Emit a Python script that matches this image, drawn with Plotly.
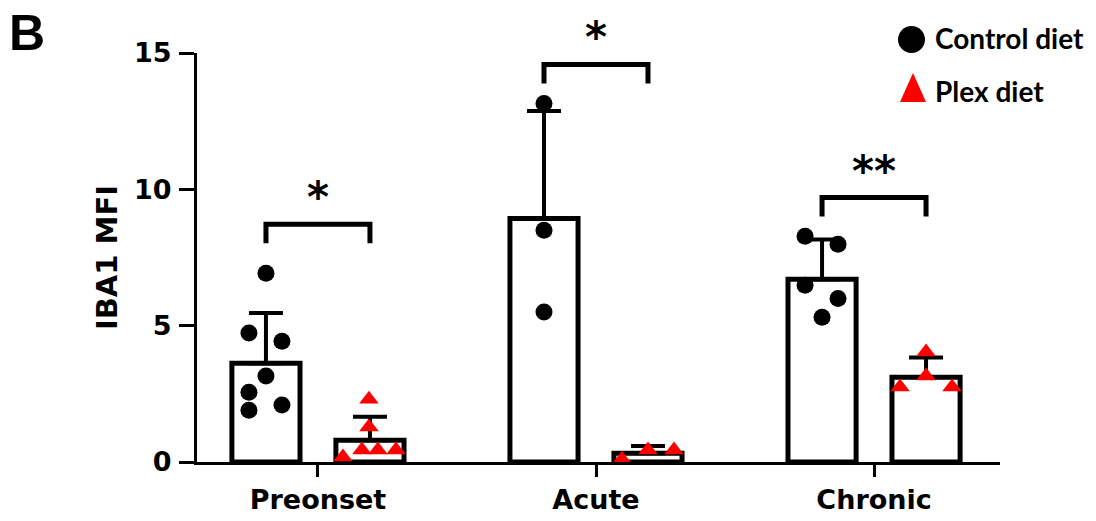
import plotly.graph_objects as go

# ---------------- data ----------------
categories = ["Preonset", "Acute", "Chronic"]

control_mean = [3.62, 8.93, 6.70]
control_sd = [1.84, 3.94, 1.46]
plex_mean = [0.80, 0.32, 3.11]
plex_sd = [0.86, 0.27, 0.72]

control_points = [
    [6.92, 4.73, 4.43, 3.15, 2.56, 1.90, 2.09],
    [13.15, 8.50, 5.50],
    [8.28, 7.99, 6.48, 6.00, 5.31],
]
plex_points = [
    [2.30, 1.28, 0.18, 0.44, 0.44, 0.44],
    [0.10, 0.44, 0.44],
    [4.03, 3.15, 2.75, 2.75],
]

significance = ["*", "*", "**"]
bracket_top = [8.72, 14.58, 9.70]

y_ticks = [0, 5, 10, 15]

# ---------------- layout helpers (positions / styles) ----------------
OFFSET = 0.187          # bar centre offset from category centre
BAR_W = 0.245
PX_PER_X = 278.0
control_jitter_px = [[0, -17, 16, 0, -17, -17, 16], [0, 0, 0], [-17, 16, -17, 16, 0]]
plex_jitter_px = [[-1, -1, -27, -8, 8, 26], [-26, 0, 26], [0, 0, -26, 26]]
LEG_DROP = 0.7

ML, MR, MT, MB = 197, 96, 53, 59
W, H = 1096, 521
PW, PH = W - ML - MR, H - MT - MB


def px(xp):
    return (xp - ML) / PW


def py(yp):
    return (H - MB - yp) / PH


idx = list(range(len(categories)))
ctrl_x = [i - OFFSET for i in idx]
plex_x = [i + OFFSET for i in idx]

fig = go.Figure()

bar_line = dict(color="black", width=5)
fig.add_trace(go.Bar(
    x=ctrl_x, y=control_mean, width=BAR_W, name="Control diet",
    marker=dict(color="white", line=bar_line), showlegend=False,
    error_y=dict(type="data", symmetric=False, array=control_sd,
                 arrayminus=[0] * 3, color="black", thickness=4, width=17),
))
fig.add_trace(go.Bar(
    x=plex_x, y=plex_mean, width=BAR_W, name="Plex diet",
    marker=dict(color="white", line=bar_line), showlegend=False,
    error_y=dict(type="data", symmetric=False, array=plex_sd,
                 arrayminus=[0] * 3, color="black", thickness=4, width=17),
))

cx, cy, tx, ty = [], [], [], []
for i in idx:
    for v, j in zip(control_points[i], control_jitter_px[i]):
        cx.append(ctrl_x[i] + j / PX_PER_X)
        cy.append(v)
    for v, j in zip(plex_points[i], plex_jitter_px[i]):
        tx.append(plex_x[i] + j / PX_PER_X)
        ty.append(v)

fig.add_trace(go.Scatter(x=cx, y=cy, mode="markers", name="Control diet",
                         marker=dict(symbol="circle", size=17, color="black"),
                         showlegend=False, cliponaxis=False))
fig.add_trace(go.Scatter(x=tx, y=ty, mode="markers", name="Plex diet",
                         marker=dict(symbol="triangle-up", size=17, color="#ff0000"),
                         showlegend=False, cliponaxis=False))

# significance brackets
for i in idx:
    top = bracket_top[i]
    fig.add_trace(go.Scatter(
        x=[ctrl_x[i], ctrl_x[i], plex_x[i], plex_x[i]],
        y=[top - LEG_DROP, top, top, top - LEG_DROP],
        mode="lines", line=dict(color="black", width=5),
        showlegend=False, hoverinfo="skip", cliponaxis=False))
    fig.add_annotation(x=(ctrl_x[i] + plex_x[i]) / 2, y=top, xref="x", yref="y",
                       text=f"<b>{significance[i]}</b>", showarrow=False, yanchor="bottom",
                       font=dict(family="DejaVu Sans", size=42, color="black"))

# manual legend
fig.add_shape(type="circle", xref="paper", yref="paper",
              x0=px(898), x1=px(925), y0=py(53), y1=py(26),
              fillcolor="black", line=dict(width=0))
fig.add_shape(type="path", xref="paper", yref="paper",
              path=f"M {px(900)},{py(102)} L {px(926)},{py(102)} L {px(913)},{py(73)} Z",
              fillcolor="#ff0000", line=dict(width=0))
leg_font = dict(family="Lato", size=28, color="black")
fig.add_annotation(x=px(933), y=py(38), xref="paper", yref="paper", text="<b>Control diet</b>",
                   showarrow=False, xanchor="left", yanchor="middle", font=leg_font)
fig.add_annotation(x=px(933), y=py(91), xref="paper", yref="paper", text="<b>Plex diet</b>",
                   showarrow=False, xanchor="left", yanchor="middle", font=leg_font)

# panel letter
fig.add_annotation(x=px(27), y=py(33), xref="paper", yref="paper", text="<b>B</b>",
                   showarrow=False, xanchor="center", yanchor="middle",
                   font=dict(family="Liberation Sans", size=50, color="black"))

axis_font = dict(family="DejaVu Sans", size=27, color="black")
fig.update_layout(
    width=W, height=H,
    margin=dict(l=ML, r=MR, t=MT, b=MB, pad=0),
    paper_bgcolor="white", plot_bgcolor="white",
    barmode="overlay",
    xaxis=dict(range=[-0.435, 2.453], tickvals=idx, automargin=False,
               ticktext=[f"<b>{c}</b>" for c in categories],
               showline=True, linecolor="black", linewidth=3,
               ticks="outside", ticklen=12, tickwidth=3, tickcolor="black",
               showgrid=False, zeroline=False,
               tickfont=dict(family="DejaVu Sans", size=27, color="black")),
    yaxis=dict(range=[0, 15], tickvals=y_ticks, automargin=False,
               ticktext=[f"<b>{t}</b>" for t in y_ticks],
               showline=True, linecolor="black", linewidth=3,
               ticks="outside", ticklen=15, tickwidth=3, tickcolor="black",
               ticklabelstandoff=2,
               showgrid=False, zeroline=False, tickfont=axis_font,
               title=dict(text="<b>IBA1 MFI</b>", standoff=8,
                          font=dict(family="DejaVu Sans", size=29, color="black"))),
)

fig.write_html("out.html", config={"displayModeBar": False},
               post_script="document.body.style.margin='0';document.body.style.overflow='hidden';")
